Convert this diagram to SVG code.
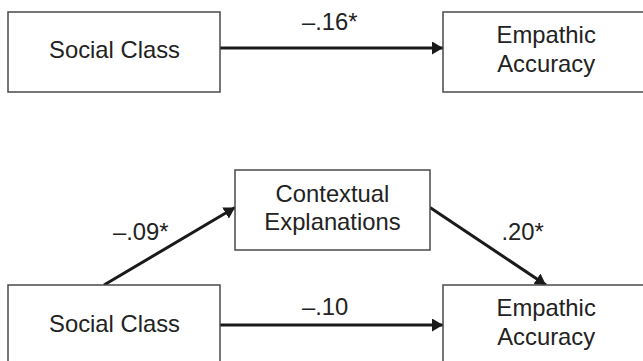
<svg xmlns="http://www.w3.org/2000/svg" width="643" height="361" viewBox="0 0 643 361">
<defs>
<style>
.box{fill:#fff;stroke:#4a4a4a;stroke-width:1.5}
.t{font-family:"Liberation Sans",Arial,sans-serif;font-size:23.8px;fill:#222}
.m{text-anchor:middle}
.c{fill:none;stroke:#1a1a1a;stroke-width:3;marker-end:url(#ah)}
</style>
<marker id="ah" markerUnits="userSpaceOnUse" markerWidth="12" markerHeight="13" refX="11" refY="6.5" orient="auto">
<path d="M0,0 L11,6.5 L0,13 z" fill="#1a1a1a"/>
</marker>
</defs>
<rect width="643" height="361" fill="#fff"/>
<g id="connectors">
<line class="c" x1="220" y1="48" x2="443" y2="48"/>
<line class="c" x1="104" y1="285" x2="235" y2="207.5"/>
<line class="c" x1="430" y1="207.5" x2="546" y2="285"/>
<line class="c" x1="220" y1="325" x2="443" y2="325"/>
</g>
<g id="labels">
<text class="t" x="302" y="29.5">–.16*</text>
<text class="t" x="113" y="239.5">–.09*</text>
<text class="t" x="501.5" y="239.5">.20*</text>
<text class="t" x="302" y="314.5">–.10</text>
</g>
<g id="social-class-1">
<rect class="box" x="8" y="12" width="212" height="80"/>
<text class="t m" x="114.5" y="58">Social Class</text>
</g>
<g id="empathic-accuracy-1">
<rect class="box" x="443" y="12" width="212" height="80"/>
<text class="t m" x="546.2" y="43">Empathic</text>
<text class="t m" x="546.2" y="72">Accuracy</text>
</g>
<g id="contextual-explanations">
<rect class="box" x="235" y="170" width="195" height="80"/>
<text class="t m" x="332.5" y="201.5">Contextual</text>
<text class="t m" x="332.5" y="230">Explanations</text>
</g>
<g id="social-class-2">
<rect class="box" x="8" y="285" width="212" height="80"/>
<text class="t m" x="114.5" y="331.5">Social Class</text>
</g>
<g id="empathic-accuracy-2">
<rect class="box" x="443" y="285" width="212" height="80"/>
<text class="t m" x="546.2" y="315.5">Empathic</text>
<text class="t m" x="546.2" y="345">Accuracy</text>
</g>
</svg>
